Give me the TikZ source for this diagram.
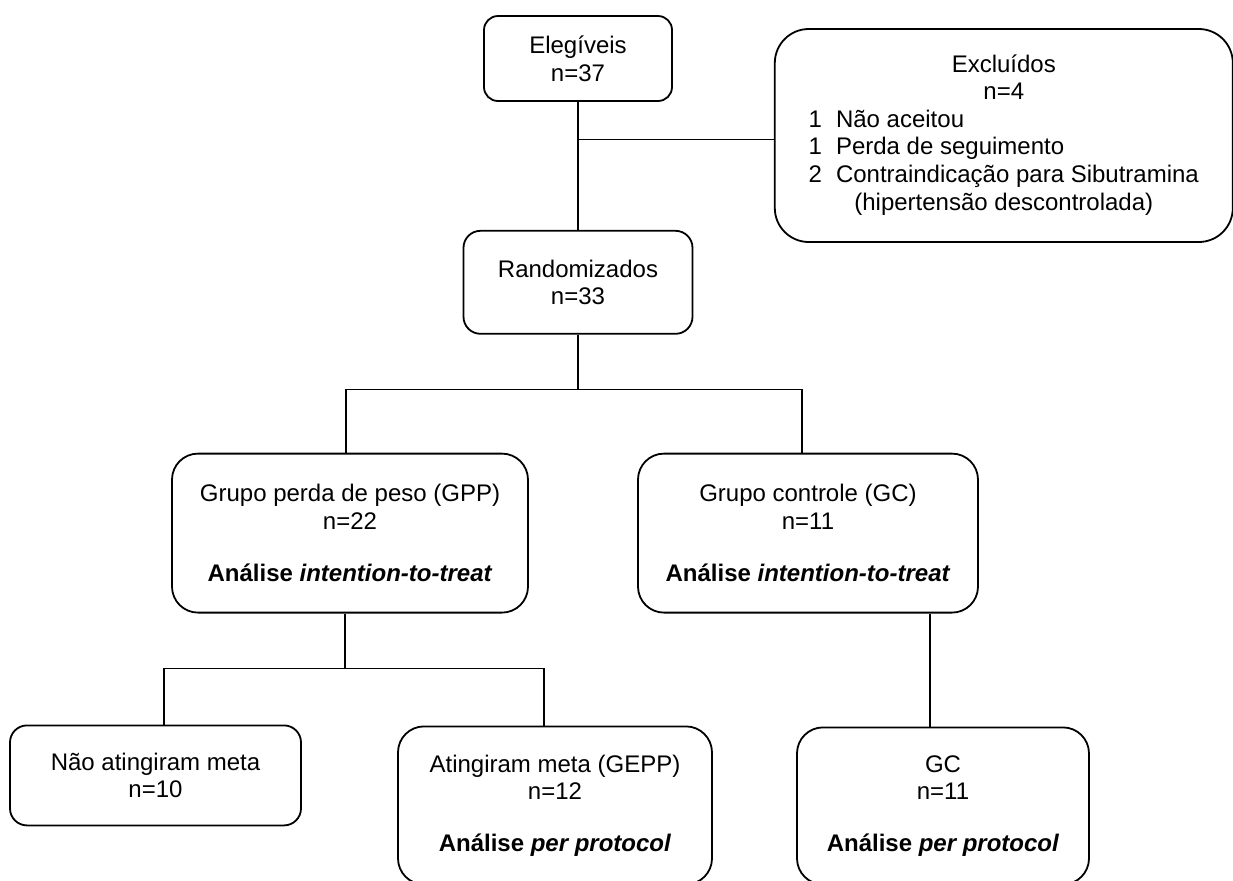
\documentclass[tikz,border=0pt]{standalone}
\usepackage{fontspec}
\setmainfont{Liberation Sans}
\usetikzlibrary{positioning}

\begin{document}
\begin{tikzpicture}[font=\fontsize{12}{13.8}\selectfont,
box/.style={rectangle, rounded corners=#1, draw=black, line width=0.9pt, align=center},
box/.default=8pt,
link/.style={line width=0.7pt}
]
\useasboundingbox (0,0) rectangle (616.5pt,-440pt);

% Elegiveis
\node[box=7pt, minimum width=94pt, minimum height=42.5pt] (elig) at (289pt,-29.25pt)
{Elegíveis\\n=37};

% Excluidos
\node[box=17pt, minimum width=229pt, minimum height=106.5pt,
below right=6.5pt and 50.5pt of elig.north east] (excl)
{\begin{tabular}{@{}l@{\hspace{7pt}}l@{}}
\multicolumn{2}{c}{Excluídos}\\
\multicolumn{2}{c}{n=4}\\
1 & Não aceitou\\
1 & Perda de seguimento\\
2 & Contraindicação para Sibutramina\\
\multicolumn{2}{c}{(hipertensão descontrolada)}
\end{tabular}};

% Randomizados
\node[box=8.5pt, minimum width=114.5pt, minimum height=51.5pt, below=64pt of elig] (rand)
{Randomizados\\n=33};

% Grupos
\node[box=13pt, minimum width=178pt, minimum height=79.5pt, below=59pt of rand, xshift=-114pt] (gpp)
{Grupo perda de peso (GPP)\\n=22\\[12.5pt]\textbf{Análise \textit{intention-to-treat}}};

\node[box=13pt, minimum width=170pt, minimum height=79.5pt, below=59pt of rand, xshift=115pt] (gc)
{Grupo controle (GC)\\n=11\\[12.5pt]\textbf{Análise \textit{intention-to-treat}}};

% Meta
\node[box=8.5pt, minimum width=145.5pt, minimum height=50pt, below=55.5pt of gpp, xshift=-97.25pt] (nao)
{Não atingiram meta\\n=10};

\node[box=13pt, minimum width=157pt, minimum height=79pt, below=56pt of gpp, xshift=102.5pt] (ating)
{Atingiram meta (GEPP)\\n=12\\[12pt]\textbf{Análise \textit{per protocol}}};

\node[box=13pt, minimum width=146pt, minimum height=78.5pt, below=56.5pt of gc, xshift=67.5pt] (gcpp)
{GC\\n=11\\[12pt]\textbf{Análise \textit{per protocol}}};

% Linhas
\coordinate[below=27.5pt of rand] (split1);
\coordinate[below=27.5pt of gpp] (split2);

\draw[link] (elig.south) -- (rand.north);
\draw[link] ([yshift=-2pt]elig.south |- excl.west) -- ([yshift=-2pt]excl.west);
\draw[link] (rand.south) -- (split1);
\draw[link] ([xshift=-2pt]gpp.north) |- (split1) -| ([xshift=-3pt]gc.north);
\draw[link] ([xshift=-2.5pt]gpp.south) -- ([xshift=-2.5pt]split2);
\draw[link] ([xshift=4.25pt]nao.north) |- (split2) -| ([xshift=-5.5pt]ating.north);
\draw[link] ([xshift=-6.5pt]gcpp.north) -- ([xshift=-6.5pt]gcpp.north |- gc.south);

\end{tikzpicture}
\end{document}
